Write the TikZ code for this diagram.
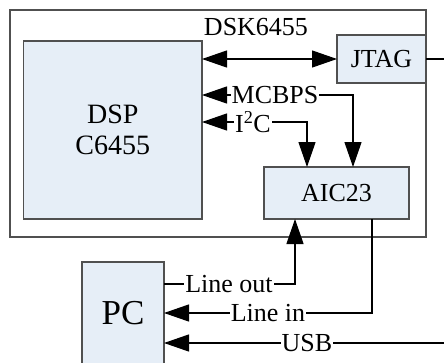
\documentclass[tikz,border=0pt]{standalone}
\usepackage{fontspec}
\setmainfont{Liberation Serif}
\usetikzlibrary{arrows.meta}
\definecolor{boxfill}{RGB}{230,238,247}
\definecolor{edge}{RGB}{80,80,80}
\begin{document}
\begin{tikzpicture}[x=1pt,y=-1pt,
  every node/.style={font=\fontsize{26}{30}\selectfont},
  blk/.style={draw=edge,line width=1.1pt,fill=boxfill,inner sep=0pt,outer sep=0pt,anchor=north west,align=center},
  lbl/.style={fill=white,inner sep=1pt},
  conn/.style={line width=1.2pt,-{Triangle[length=25pt,width=17pt]}},
  conn2/.style={line width=1.2pt,{Triangle[length=25pt,width=17pt]}-{Triangle[length=25pt,width=17pt]}}
]
\useasboundingbox (0,0) rectangle (444,362);
\node[draw=edge,line width=1.1pt,inner sep=0pt,outer sep=0pt,anchor=north west,minimum width=416pt,minimum height=227pt] (outer) at (10,10) {};
\node (dsk) at (256,27) {DSK6455};
\node[blk,minimum width=178.5pt,minimum height=178pt,font=\fontsize{28}{31}\selectfont] (dsp) at (23.5,41) {DSP\\C6455};
\node[blk,minimum width=89pt,minimum height=48pt] (jtag) at (337,35) {JTAG};
\node[blk,minimum width=145pt,minimum height=52pt] (aic) at (264,167) {AIC23};
\node[blk,minimum width=82pt,minimum height=102pt,font=\fontsize{35}{40}\selectfont] (pc) at (82,262) {PC};
\coordinate (jr) at (444,59);
\coordinate (m) at (353,95);
\coordinate (i) at (307,122);
\coordinate (lo) at (295,284);
\coordinate (li) at (372,313);
\coordinate (usb) at (444,343);
\draw[conn2] (dsp.east |- jtag.west) -- (jtag.west);
\draw[line width=1.2pt] (jtag.east) -- (jr);
\draw[conn2] (dsp.east |- m) -- (m) -- (m |- aic.north);
\draw[conn2] (dsp.east |- i) -- (i) -- (i |- aic.north);
\draw[conn] (pc.east |- lo) -- (lo) -- (lo |- aic.south);
\draw[conn] (li |- aic.south) -- (li) -- (pc.east |- li);
\draw[conn] (usb) -- (pc.east |- usb);
\node[lbl] (lm) at (275,95) {MCBPS};
\node[lbl] (li2) at (253,122) {I\textsuperscript{2}C};
\node[lbl] (llo) at (229,284) {Line out};
\node[lbl] (lli) at (268,313) {Line in};
\node[lbl] (lusb) at (307,343) {USB};
\end{tikzpicture}
\end{document}
